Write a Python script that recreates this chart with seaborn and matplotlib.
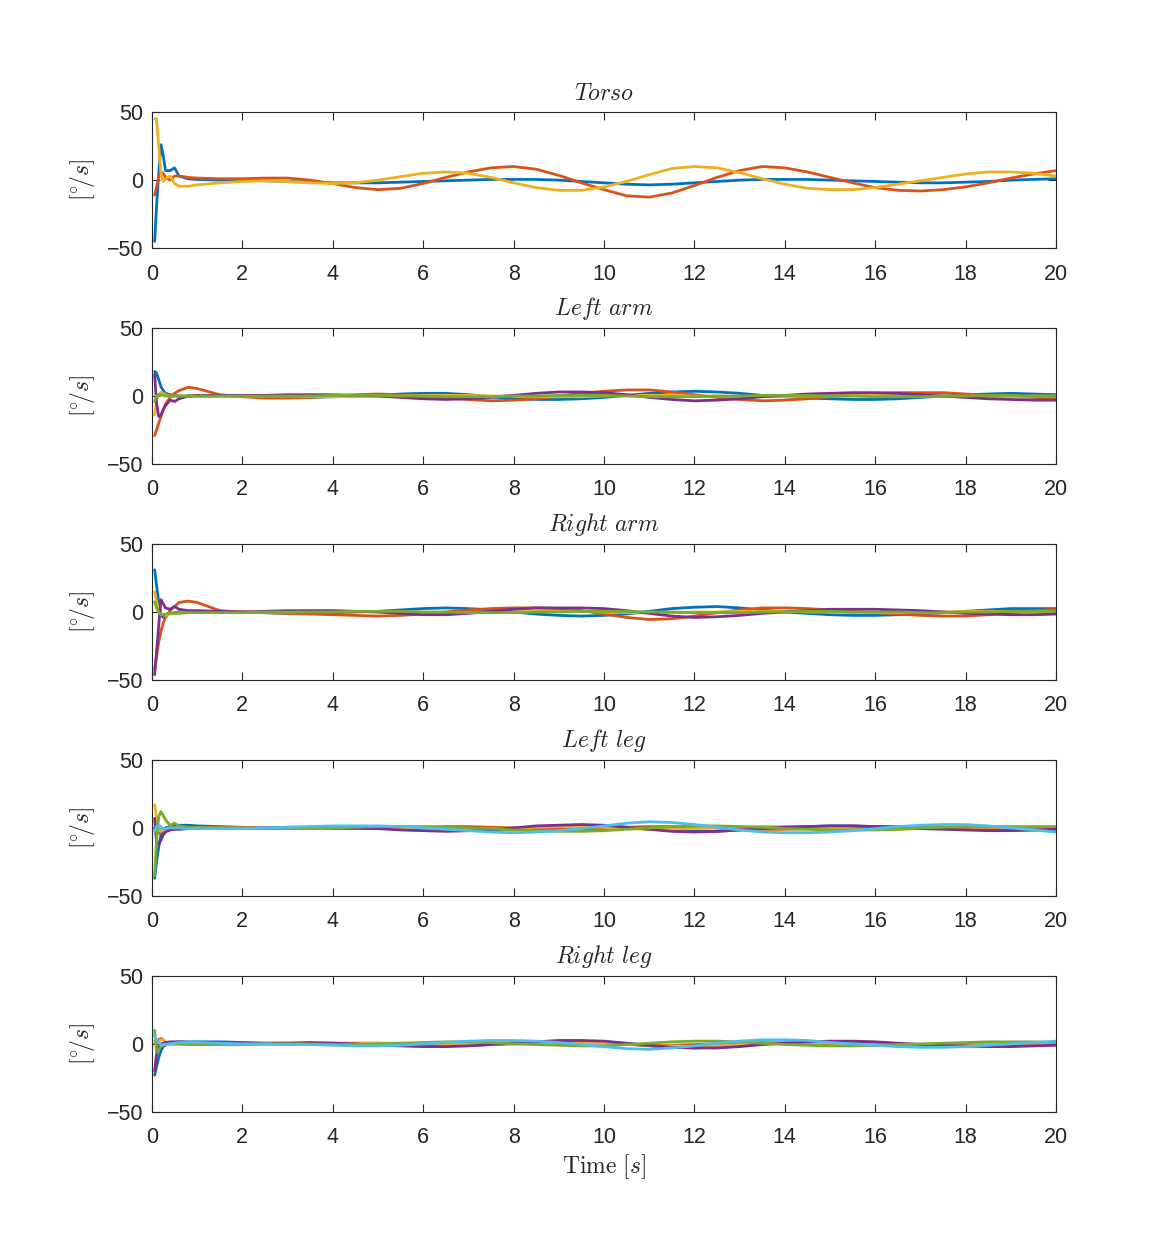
import numpy as np
import pandas as pd
import matplotlib
matplotlib.use("Agg")
import matplotlib.pyplot as plt
import seaborn as sns

# sample times [s]: dense during the start-up transient, then every 0.5 s
time = [0.06, 0.1, 0.15, 0.2, 0.25, 0.3, 0.4, 0.5, 0.6, 0.8, 1.0,
        1.5, 2.0, 2.5, 3.0, 3.5, 4.0, 4.5, 5.0, 5.5, 6.0, 6.5, 7.0, 7.5, 8.0,
        8.5, 9.0, 9.5, 10.0, 10.5, 11.0, 11.5, 12.0, 12.5, 13.0, 13.5, 14.0,
        14.5, 15.0, 15.5, 16.0, 16.5, 17.0, 17.5, 18.0, 18.5, 19.0, 19.5, 20.0]

# --- Torso ---
torso_1 = [-45, -20, 5, 26, 18, 7, 7, 9, 3, 1, 0.5,
           0, 0, -0.5, -1, -1.5, -2, -2, -2, -1.5, -1, -0.5, 0, 0.5, 0.5,
           0.5, 0, -1, -2, -3, -3.5, -3, -2, -1, 0, 0.5, 0.5,
           0.5, 0, -0.5, -1, -1.5, -2, -2, -1.5, -1, 0, 0.5, 1]
torso_2 = [-11, -5, 2, 6, 5, 2, 0, 3, 3, 2, 1.5,
           1, 1, 1.5, 1.5, 0, -2.5, -5.5, -7, -6, -2.5, 2, 6, 9, 10,
           8, 3.5, -2, -7, -11.5, -12.5, -9.5, -4, 2, 7, 10, 9,
           6, 2, -2, -5.5, -7.5, -8, -7, -5, -2, 1.5, 4.5, 7]
torso_3 = [45, 45, 25, 5, -1, 1, 3, -2.5, -4.5, -4.5, -3.5,
           -2, -1, -0.5, -1, -2, -2.5, -2, 0, 2.5, 5, 6, 5, 2, -2,
           -5.5, -7.5, -7.5, -5, -1, 4, 8.5, 10, 9, 5.5, 1, -3,
           -6, -7, -7, -5.5, -3, -0.5, 2, 4.5, 6, 6, 5, 3]

# --- Left arm ---
larm_1 = [18, 17, 12, 7, 4, 2, 1, 0.5, 0, 0, 0,
          0, 0, -0.5, -1, -1, -0.5, 0, 0.5, 1.5, 2, 2, 1, -0.5, -2,
          -2.5, -2.5, -2, -1, 0.5, 2, 3, 3.5, 3, 2, 0.5, -0.5,
          -1.5, -2, -2.5, -2.5, -2, -1, 0, 1, 1.5, 2, 1.5, 1]
larm_2 = [-29, -25, -20, -15, -10, -6, -1, 2, 4, 6.5, 5.5,
          1, -0.5, -1.5, -1.5, -1, 0, 1, 1.5, 1, -0.5, -1.5, -2.5, -3.5, -3,
          -2, 0, 2, 3.5, 4.5, 4.5, 3, 1, -1, -2.5, -3.5, -3,
          -2, -0.5, 1, 2, 2.5, 2.5, 2.5, 1.5, 0.5, -0.5, -1, -1.5]
larm_3 = [-14, -3, 1, 3, 2, 1, 0, 0, 0, 0, 0,
          0, 0, 0, 0, -0.5, -0.5, -0.5, 0, 0, 0.5, 0.5, 0.5, 0, 0,
          -0.5, -0.5, -0.5, 0, 0.5, 0.5, 0.5, 0, 0, -0.5, -0.5, -0.5,
          0, 0, 0.5, 0.5, 0.5, 0, 0, -0.5, -0.5, -0.5, 0, 0]
larm_4 = [16, -5, -15, -14, -10, -7, -3, -4, -2, 0, 0.5,
          0.5, 0.5, 0.5, 1, 1, 1, 0.5, 0, -1, -2, -2.5, -2, -1, 0.5,
          2, 3, 3, 2.5, 1, -1, -2.5, -3.5, -3, -2, -0.5, 0.5,
          1.5, 2, 2.5, 2.5, 2, 1, 0, -1, -2, -2.5, -3, -3]
larm_5 = [-4, 0, 1, 1, 0.5, 0, 0, 0, 0, 0, 0,
          0, 0, 0, 0, 0, 0.5, 0.5, 0.5, 0, 0, -0.5, -0.5, -0.5, 0,
          0, 0.5, 0.5, 0.5, 0, -0.5, -0.5, -0.5, 0, 0, 0.5, 0.5,
          0.5, 0, 0, -0.5, -0.5, -0.5, 0, 0, 0.5, 0.5, 0, 0]

# --- Right arm ---
rarm_1 = [31, 20, 7, -2, -4, -2, -1, -0.5, 0, 0, 0,
          0, 0, -0.5, -1, -1, -0.5, 0, 0.5, 1.5, 2.5, 3, 2.5, 1.5, 0,
          -1.5, -2.5, -3, -2.5, -1.5, 0.5, 2.5, 3.5, 4, 3, 1.5, 0,
          -1, -2, -2.5, -2.5, -2, -1.5, -0.5, 0.5, 1.5, 2.5, 2.5, 2.5]
rarm_2 = [-42, -33, -22, -14, -8, -4, 1, 4, 7, 8, 7,
          1, 0, -0.5, -1, -1.5, -2, -2.5, -3, -2.5, -1.5, 0, 1.5, 2.5, 3,
          3, 2.5, 1, -1.5, -4, -5.5, -5, -3, -0.5, 1.5, 3, 3,
          2.5, 1.5, 0.5, -0.5, -1.5, -2.5, -3, -3, -2, -0.5, 1, 2]
rarm_3 = [15, 8, 1, -1, -2, -2.5, -1.5, -1, -0.5, 0, 0,
          0, 0, 0, 0, 0.5, 0.5, 0.5, 0, 0, -0.5, -0.5, -0.5, 0, 0,
          0.5, 0.5, 0.5, 0, -0.5, -0.5, -0.5, 0, 0, 0.5, 0.5, 0.5,
          0, 0, -0.5, -0.5, -0.5, 0, 0, 0.5, 0.5, 0.5, 0, 0]
rarm_4 = [-46, -30, -10, 9, 6, 3, 2, 4, 2, 1, 1,
          0.5, 0, 0.5, 1, 1, 1, 0.5, 0, -1, -2, -2, -1, 0.5, 2,
          3, 3, 3, 2.5, 1, -1, -3, -4, -3.5, -2.5, -1, 0,
          1, 2, 2, 2, 1.5, 1, 0, -1, -1.5, -2, -2, -1.5]
rarm_5 = [7.5, 3, 0, -2, -2, -1.5, -1, -1, -1, -0.5, -0.5,
          -0.5, -0.5, 0, 0, 0, 0, 0.5, 0.5, 0.5, 0, 0, -0.5, -0.5, -0.5,
          0, 0, 0.5, 0.5, 0.5, 0, 0, -0.5, -0.5, -0.5, 0, 0,
          0.5, 0.5, 0, 0, 0, -0.5, -0.5, 0, 0, 0.5, 0.5, 0.5]

# --- Left leg ---
lleg_1 = [-37, -25, -14, -5, -2, 0, 1, 1.5, 2, 2, 1.5,
          1, 0.5, 0, 0, 0.5, 0.5, 0.5, 0, -0.5, -1.5, -2, -2, -1.5, -0.5,
          0.5, 1.5, 2, 1.5, 0.5, -0.5, -2, -2.5, -2.5, -1.5, -0.5, 0.5,
          1, 1.5, 1.5, 1, 0.5, 0, -0.5, -1, -1.5, -1.5, -1.5, -1]
lleg_2 = [0, -3, -4, -3, -1, 0, 0, 0, 0, 0, 0,
          0, 0, 0, 0, 0, -0.5, -0.5, -0.5, 0, 0.5, 1, 1, 0.5, 0,
          -0.5, -1, -1, -0.5, 0.5, 1, 1, 0.5, 0, -0.5, -1, -1,
          -0.5, 0, 0.5, 1, 1, 0.5, 0, -0.5, -0.5, -0.5, 0, 0.5]
lleg_3 = [17, 8, -1, -2.5, -1.5, -1, 0, 0, 0, 0, 0,
          0, 0, 0, 0, 0, 0.5, 0.5, 0.5, 0, -0.5, -1, -1, -0.5, 0,
          0.5, 1, 1, 0.5, -0.5, -1, -1, -0.5, 0, 0.5, 1, 1,
          0.5, 0, -0.5, -1, -1, -0.5, 0, 0.5, 0.5, 0.5, 0, -0.5]
lleg_4 = [7, -10, -12, -9, -5, -3, -1.5, -1, -1, -0.5, -0.5,
          -0.5, -0.5, 0, 0.5, 0.5, 0.5, 0, -0.5, -1.5, -2, -2.5, -2, -1, 0,
          1.5, 2, 2.5, 2, 0.5, -1, -2.5, -3, -2.5, -1.5, -0.5, 0.5,
          1, 1.5, 1.5, 1, 0.5, -0.5, -1, -1.5, -2, -2, -1.5, -1]
lleg_5 = [-35, -10, 8, 12, 9, 6, 2, 3.5, 1.5, 0.5, 0,
          0, -0.5, -0.5, -0.5, -0.5, 0, 0.5, 1, 1, 1, 0.5, 0, -0.5, -1.5,
          -2, -2.5, -2.5, -2, -1, 0, 1, 1.5, 1.5, 1, 0.5, -0.5,
          -1, -1.5, -1.5, -1.5, -1, 0, 0.5, 1, 1, 1, 1, 1]
lleg_6 = [-2.5, 1, 2, 1, -1, -0.5, 0, 0, 0, -0.5, -0.5,
          -0.5, -0.5, 0, 0.5, 1, 1.5, 1.5, 1.5, 1, 0, -1, -2, -3, -3.5,
          -3, -2, -0.5, 1.5, 3.5, 4.5, 4, 2.5, 0.5, -1.5, -3, -3.5,
          -3.5, -3, -2, -0.5, 1, 2, 2.5, 2.5, 1.5, 0, -1.5, -3]

# --- Right leg ---
rleg_1 = [-23, -17, -10, -5, -2, -1, 0.5, 1, 1.5, 1.5, 1.5,
          1.5, 1, 0.5, 0.5, 0.5, 0.5, 0, -0.5, -1, -1.5, -1.5, -1, 0, 1,
          1.5, 2, 2, 1.5, 0, -1.5, -2.5, -3, -2.5, -1.5, 0, 1,
          1.5, 1.5, 1.5, 1, 0, -0.5, -1, -1.5, -1.5, -1.5, -1, -0.5]
rleg_2 = [0, 1, 3, 4, 3, 1, 0, 0, 0, 0, 0,
          0, 0, 0, 0, 0, 0.5, 0.5, 0.5, 0, -0.5, -1, -1, -0.5, 0,
          0.5, 1, 1, 0.5, -0.5, -1, -1, -0.5, 0, 0.5, 1, 1,
          0.5, 0, -0.5, -1, -1, -0.5, 0, 0.5, 0.5, 0.5, 0, 0]
rleg_3 = [2, 1, 2, 3, 3, 1.5, 0, 0, 0, 0, 0,
          0, 0, 0, 0, 0, 0, 0.5, 0.5, 0.5, 0, -0.5, -0.5, -0.5, 0,
          0.5, 0.5, 1, 0.5, 0, -1, -1.5, -2, -1.5, -0.5, 0.5, 1,
          1, 0.5, 0, -0.5, -1, -1, -0.5, 0, 0.5, 0.5, 0.5, 0]
rleg_4 = [-20, -8, -2, 0, 0.5, 1, 1.5, 1.5, 1.5, 1, 1,
          1, 0.5, 0.5, 0.5, 1, 0.5, 0, -1, -1.5, -2, -2, -1.5, -0.5, 0.5,
          1.5, 2.5, 2.5, 2, 0.5, -1, -2.5, -3, -3, -2, -0.5, 0.5,
          1.5, 2, 2, 1.5, 0.5, -0.5, -1, -1.5, -2, -2, -1.5, -1]
rleg_5 = [10, -6, -4, -2, -1, -0.5, 0, 0, 0, -0.5, -0.5,
          -0.5, -0.5, 0, 0, 0, -0.5, -0.5, 0, 0.5, 1, 1.5, 1.5, 1, 0,
          -0.5, -1, -1.5, -1.5, -0.5, 0.5, 1.5, 2, 2, 1.5, 0.5, -0.5,
          -1, -1.5, -1.5, -1, -0.5, 0, 0.5, 1, 1.5, 1.5, 1.5, 1]
rleg_6 = [6, 3, 1, -1, -0.5, -0.5, 0, 0.5, 1, 1, 1,
          0.5, 0, 0, -0.5, -0.5, -1, -1.5, -1.5, -1, 0, 1, 2, 2.5, 2.5,
          2, 1, -0.5, -2, -3.5, -4, -3, -1.5, 0.5, 2, 3, 3,
          2.5, 1, 0, -1, -2, -2.5, -2.5, -2, -1, 0, 1, 2]

titles = ["Torso", "Left arm", "Right arm", "Left leg", "Right leg"]
groups = [
    [torso_1, torso_2, torso_3],
    [larm_1, larm_2, larm_3, larm_4, larm_5],
    [rarm_1, rarm_2, rarm_3, rarm_4, rarm_5],
    [lleg_1, lleg_2, lleg_3, lleg_4, lleg_5, lleg_6],
    [rleg_1, rleg_2, rleg_3, rleg_4, rleg_5, rleg_6],
]

# MATLAB default line colours
matlab_colors = ["#0072BD", "#D95319", "#EDB120", "#7E2F8E", "#77AC30", "#4DBEEE"]

sns.set_style("ticks")
plt.rcParams["font.family"] = ["Liberation Sans", "DejaVu Sans"]
plt.rcParams["mathtext.fontset"] = "cm"
ink = "#262626"

fig, axes = plt.subplots(5, 1, figsize=(11.67, 12.5), dpi=100)
fig.subplots_adjust(left=0.1302, right=0.9049, top=0.9104, bottom=0.1104, hspace=0.585)

for ax, title, series in zip(axes, titles, groups):
    df = pd.DataFrame({
        "t": np.tile(time, len(series)),
        "rate": np.concatenate([np.asarray(s, dtype=float) for s in series]),
        "joint": np.repeat(np.arange(len(series)), len(time)),
    })
    sns.lineplot(data=df, x="t", y="rate", hue="joint",
                 palette=matlab_colors[:len(series)], estimator=None,
                 linewidth=2.0, legend=False, ax=ax)
    ax.set_xlim(0, 20)
    ax.set_ylim(-50, 50)
    ax.set_xticks(range(0, 21, 2))
    ax.set_yticks([-50, 0, 50])
    ax.tick_params(direction="in", top=True, right=True, length=6, width=0.8,
                   labelsize=15.5, colors=ink)
    ax.tick_params(axis="x", pad=11)
    ax.tick_params(axis="y", pad=6)
    for sp in ax.spines.values():
        sp.set_color(ink)
        sp.set_linewidth(0.8)
    ax.set_title("$" + title.replace(" ", r"\ ") + "$", fontsize=17, color=ink, pad=9)
    ax.set_ylabel(r"$[^{\circ}\!/s]$", fontsize=17, color=ink, labelpad=7)
    ax.set_xlabel("")

axes[-1].set_xlabel(r"$\mathrm{Time}\ [s]$", fontsize=17, color=ink, labelpad=3)

fig.savefig("out.png", dpi=100, facecolor="white")
